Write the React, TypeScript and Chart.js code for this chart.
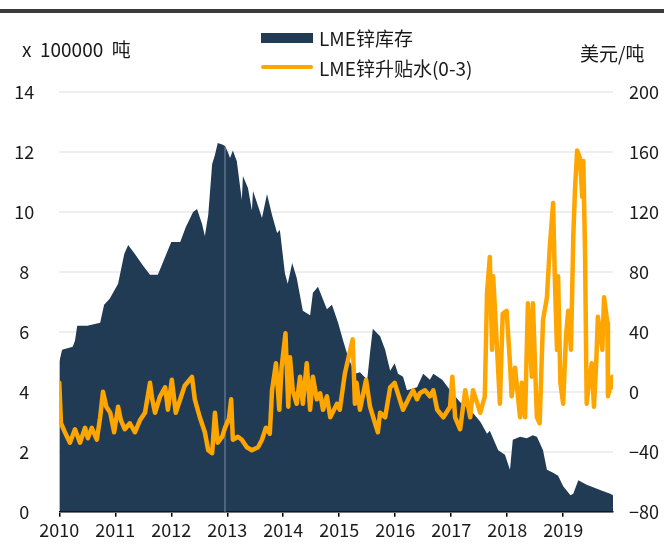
import React, { useEffect, useRef } from "react";
import { Chart, registerables } from "chart.js";
Chart.register(...registerables);

const yearTicks = [2010, 2011, 2012, 2013, 2014, 2015, 2016, 2017, 2018, 2019];

const invYears = [
  2010.00, 2010.05, 2010.24, 2010.28, 2010.32, 2010.50, 2010.73, 2010.80, 2010.90, 2011.05,
  2011.16, 2011.23, 2011.35, 2011.50, 2011.62, 2011.76, 2011.89, 2012.00, 2012.16, 2012.26,
  2012.39, 2012.46, 2012.55, 2012.60, 2012.66, 2012.73, 2012.78, 2012.83, 2012.91, 2012.96,
  2013.01, 2013.05, 2013.10, 2013.17, 2013.26, 2013.28, 2013.37, 2013.44, 2013.46, 2013.55,
  2013.62, 2013.71, 2013.80, 2013.89, 2013.94, 2014.03, 2014.08, 2014.16, 2014.24, 2014.35,
  2014.48, 2014.53, 2014.62, 2014.78, 2014.87, 2014.98, 2015.07, 2015.16, 2015.28, 2015.37,
  2015.50, 2015.55, 2015.60, 2015.73, 2015.82, 2015.91, 2015.99, 2016.05, 2016.14, 2016.21,
  2016.39, 2016.50, 2016.62, 2016.68, 2016.84, 2016.98, 2017.16, 2017.34, 2017.52, 2017.64,
  2017.69, 2017.84, 2017.96, 2018.05, 2018.10, 2018.23, 2018.35, 2018.46, 2018.53, 2018.58,
  2018.64, 2018.71, 2018.82, 2018.91, 2019.00, 2019.13, 2019.18, 2019.27, 2019.42, 2019.66,
  2019.84, 2019.89,
];
const invValues = [
  5.0, 5.4, 5.5, 5.7, 6.2, 6.2, 6.3, 6.9, 7.1, 7.6,
  8.6, 8.9, 8.6, 8.2, 7.9, 7.9, 8.5, 9.0, 9.0, 9.5,
  10.0, 10.1, 9.6, 9.2, 9.9, 11.6, 11.9, 12.3, 12.25, 12.2,
  12.0, 11.8, 12.05, 11.7, 10.4, 11.2, 10.8, 10.05, 10.7, 10.2,
  9.8, 10.6, 9.9, 9.3, 9.4, 7.95, 7.6, 8.3, 7.8, 6.7,
  6.55, 7.3, 7.5, 6.75, 6.9, 6.3, 5.7, 5.15, 4.6, 4.65,
  4.4, 5.3, 6.1, 5.85, 5.4, 4.7, 4.95, 4.6, 4.5, 4.05,
  4.15, 4.6, 4.4, 4.6, 4.4, 4.05, 3.65, 3.4, 3.0, 2.6,
  2.7, 2.05, 1.9, 1.4, 2.4, 2.5, 2.45, 2.55, 2.5, 2.3,
  2.05, 1.4, 1.3, 1.2, 0.85, 0.55, 0.6, 1.05, 0.9, 0.72,
  0.6, 0.55,
];

const spreadYears = [
  2010.00, 2010.03, 2010.10, 2010.19, 2010.28, 2010.37, 2010.46, 2010.51, 2010.58, 2010.67,
  2010.73, 2010.78, 2010.84, 2010.91, 2010.98, 2011.05, 2011.10, 2011.17, 2011.26, 2011.35,
  2011.44, 2011.53, 2011.62, 2011.66, 2011.71, 2011.80, 2011.89, 2011.94, 2012.01, 2012.08,
  2012.16, 2012.24, 2012.37, 2012.42, 2012.51, 2012.60, 2012.66, 2012.73, 2012.78, 2012.83,
  2012.91, 2012.96, 2013.03, 2013.07, 2013.10, 2013.19, 2013.26, 2013.35, 2013.44, 2013.55,
  2013.62, 2013.69, 2013.76, 2013.80, 2013.87, 2013.93, 2013.97, 2014.04, 2014.09, 2014.12,
  2014.17, 2014.24, 2014.30, 2014.35, 2014.42, 2014.48, 2014.53, 2014.60, 2014.66, 2014.71,
  2014.78, 2014.84, 2014.96, 2015.01, 2015.10, 2015.24, 2015.28, 2015.31, 2015.37, 2015.48,
  2015.55, 2015.64, 2015.69, 2015.73, 2015.82, 2015.91, 2015.99, 2016.08, 2016.14, 2016.26,
  2016.32, 2016.39, 2016.44, 2016.53, 2016.62, 2016.68, 2016.75, 2016.86, 2016.98, 2017.02,
  2017.07, 2017.16, 2017.25, 2017.34, 2017.39, 2017.52, 2017.60, 2017.64, 2017.69, 2017.73,
  2017.75, 2017.82, 2017.87, 2017.92, 2017.99, 2018.05, 2018.08, 2018.14, 2018.23, 2018.26,
  2018.32, 2018.37, 2018.44, 2018.46, 2018.53, 2018.58, 2018.64, 2018.71, 2018.76, 2018.82,
  2018.85, 2018.89, 2018.91, 2018.95, 2019.00, 2019.05, 2019.09, 2019.14, 2019.18, 2019.21,
  2019.25, 2019.30, 2019.34, 2019.36, 2019.39, 2019.42, 2019.46, 2019.51, 2019.55, 2019.59,
  2019.62, 2019.70, 2019.73, 2019.79, 2019.80, 2019.88, 2019.89,
];
const spreadValues = [
  6, -21, -27, -34, -25, -34, -24, -31, -24, -32,
  -17, 0, -10, -14, -27, -10, -19, -25, -21, -27,
  -19, -14, 6, -5, -14, -3, 3, -12, 8, -14,
  -5, 4, 10, -5, -17, -27, -39, -41, -14, -34,
  -30, -24, -18, -5, -32, -30, -32, -37, -39, -37,
  -32, -24, -28, 1, 19, -12, 16, 39, -10, 23,
  1, -8, 10, -8, 19, -12, 10, -5, -1, -12,
  -3, -17, -8, -12, 12, 35, -8, 6, -12, 8,
  -10, -21, -27, -14, -17, 3, 6, -5, -12, -3,
  1, -5, -1, 1, -3, 1, -12, -17, -10, 10,
  -17, -25, 1, -17, 1, -14, -3, 66, 90, 28,
  77, 28, -8, 52, 54, 19, -3, 16, -17, 6,
  -17, 59, 10, 59, -17, -21, 48, 63, 96, 126,
  77, 28, 77, 6, -8, 37, 54, 28, 103, 134,
  161, 156, 130, 154, 94, -8, 6, 19, -10, 19,
  50, 28, 63, 46, -3, 10, 3,
];

const markerYear = 2012.96;

const NAVY = "#213b55";
const ORANGE = "#FFA500";
const FONT = "'Noto Sans CJK SC', 'Noto Sans', sans-serif";

export default function App() {
  const ref = useRef<HTMLCanvasElement>(null);

  useEffect(() => {
    const canvas = ref.current;
    if (!canvas) return;
    const markerPlugin = {
      id: "marker",
      afterDatasetDraw(chart: any, args: any) {
        if (args.index !== 1) return;
        const xs = chart.scales.x;
        const ys = chart.scales.y;
        let v = 0;
        for (let i = 0; i < invYears.length - 1; i++) {
          if (markerYear >= invYears[i] && markerYear <= invYears[i + 1]) {
            const t = (markerYear - invYears[i]) / (invYears[i + 1] - invYears[i]);
            v = invValues[i] + t * (invValues[i + 1] - invValues[i]);
          }
        }
        const c = chart.ctx;
        const px = xs.getPixelForValue(markerYear);
        c.save();
        c.strokeStyle = "#5f758b";
        c.lineWidth = 1.5;
        c.beginPath();
        c.moveTo(px, ys.getPixelForValue(0));
        c.lineTo(px, ys.getPixelForValue(v) + 1);
        c.stroke();
        c.restore();
      },
    };
    const tickFont = { family: FONT, size: 18 };
    const chart = new Chart(canvas, {
      type: "line",
      data: {
        datasets: [
          {
            label: "LME锌升贴水(0-3)",
            data: spreadYears.map((x, i) => ({ x, y: spreadValues[i] })),
            yAxisID: "y1",
            borderColor: ORANGE,
            backgroundColor: ORANGE,
            borderWidth: 4.5,
            pointRadius: 0,
            fill: false,
            tension: 0,
            borderJoinStyle: "round",
            borderCapStyle: "round",
          },
          {
            label: "LME锌库存",
            data: invYears.map((x, i) => ({ x, y: invValues[i] })),
            yAxisID: "y",
            borderColor: NAVY,
            backgroundColor: NAVY,
            borderWidth: 0,
            pointRadius: 0,
            fill: "origin",
            tension: 0,
          },
        ],
      },
      options: {
        animation: false,
        responsive: false,
        maintainAspectRatio: false,
        layout: { padding: { top: 92, left: 0, right: 0, bottom: 0 } },
        plugins: { legend: { display: false }, tooltip: { enabled: false } },
        scales: {
          x: {
            type: "linear",
            min: 2010,
            max: 2019.89,
            afterBuildTicks: (s: any) => {
              s.ticks = yearTicks.map((v) => ({ value: v }));
            },
            afterFit: (s: any) => {
              s.height = 32.3;
            },
            grid: { drawOnChartArea: false, drawTicks: true, tickLength: 5, color: "#000", lineWidth: 1.5 },
            border: { color: "#000", width: 1.5 },
            ticks: {
              font: tickFont,
              color: "#1a1a1a",
              padding: 3,
              maxRotation: 0,
              autoSkip: false,
              callback: (v: any) => String(v),
            },
          },
          y: {
            position: "left",
            min: 0,
            max: 14,
            afterFit: (s: any) => {
              s.width = 59.3;
              s.paddingTop = 0;
              s.paddingBottom = 0;
            },
            ticks: { stepSize: 2, font: tickFont, color: "#1a1a1a", padding: 25, crossAlign: "center" },
            grid: { color: "#eeeeee", lineWidth: 2, drawTicks: false },
            border: { display: false },
          },
          y1: {
            position: "right",
            min: -80,
            max: 200,
            afterFit: (s: any) => {
              s.width = 51;
              s.paddingTop = 0;
              s.paddingBottom = 0;
            },
            ticks: {
              stepSize: 40,
              font: tickFont,
              color: "#1a1a1a",
              padding: 16,
              callback: (v: any) => String(v).replace("-", "\u2212"),
            },
            grid: { display: false, drawTicks: false },
            border: { display: false },
          },
        },
      } as any,
      plugins: [markerPlugin],
    });
    return () => chart.destroy();
  }, []);

  const txt: React.CSSProperties = {
    position: "absolute",
    fontSize: 19,
    lineHeight: "19px",
    color: "#1a1a1a",
    whiteSpace: "pre",
    fontFamily: FONT,
  };

  return (
    <div style={{ position: "fixed", left: 0, top: 0, width: 664, height: 544, background: "#fff", fontFamily: FONT }}>
      <canvas ref={ref} width={664} height={544} style={{ position: "absolute", left: 0, top: 0, width: 664, height: 544 }} />
      <div style={{ position: "absolute", left: 0, top: 9, width: 664, height: 4, background: "#3b3b3b" }} />
      <div style={{ ...txt, left: 22, top: 39 }}>{"x  100000  吨"}</div>
      <div style={{ ...txt, left: 580, top: 43 }}>{"美元/吨"}</div>
      <div style={{ position: "absolute", left: 261, top: 33, width: 52, height: 10, background: NAVY }} />
      <div style={{ ...txt, left: 319, top: 28 }}>{"LME锌库存"}</div>
      <div style={{ position: "absolute", left: 261, top: 65, width: 52, height: 4, borderRadius: 2, background: ORANGE }} />
      <div style={{ ...txt, left: 319, top: 58 }}>{"LME锌升贴水(0-3)"}</div>
    </div>
  );
}
